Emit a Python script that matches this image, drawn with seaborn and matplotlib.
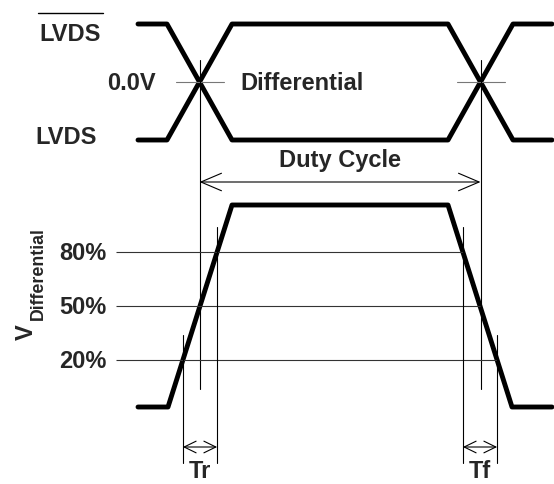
import numpy as np
import pandas as pd
import matplotlib
matplotlib.use("Agg")
import matplotlib.pyplot as plt
import seaborn as sns

# waveform vertices (drawing units = pixels of the sheet, y grows downward)
t_upper = [138, 167, 232, 448, 513, 552]
lvds_bar = [24, 24, 140, 140, 24, 24]
lvds = [140, 140, 24, 24, 140, 140]

t_lower = [138, 168, 232, 448, 512, 552]
v_diff = [407, 407, 205, 205, 407, 407]

level_labels = ["80%", "50%", "20%"]
level_y = [252, 306, 360]

sns.set_theme(style="white")
plt.rcParams["font.family"] = ["Liberation Sans", "DejaVu Sans"]
plt.rcParams["font.weight"] = "bold"

fig = plt.figure(figsize=(5.54, 4.84), dpi=100)
ax = fig.add_axes([0, 0, 1, 1])
ax.set_xlim(0, 554)
ax.set_ylim(484, 0)
ax.axis("off")

wave_lw = 3.5
thin = 0.8
fs = 17

# upper LVDS pair
df_up = pd.DataFrame({"t": t_upper * 2, "v": lvds_bar + lvds,
                      "sig": ["bar"] * 6 + ["lvds"] * 6})
sns.lineplot(data=df_up, x="t", y="v", units="sig", estimator=None, sort=False,
             color="black", lw=wave_lw, ax=ax, legend=False)

# lower differential waveform
df_lo = pd.DataFrame({"t": t_lower, "v": v_diff})
sns.lineplot(data=df_lo, x="t", y="v", estimator=None, sort=False,
             color="black", lw=wave_lw, ax=ax, legend=False)
ax.set_xlim(0, 554)
ax.set_ylim(484, 0)
ax.set_xlabel("")
ax.set_ylabel("")

# crossing points of the LVDS pair
mid_y = (lvds[0] + lvds_bar[0]) / 2
cross_x = [(t_upper[1] + t_upper[2]) / 2, (t_upper[3] + t_upper[4]) / 2]
for cx in cross_x:
    ax.plot([cx - 24, cx + 24], [mid_y, mid_y], color="#777777", lw=thin)
    ax.plot([cx, cx], [mid_y - 22, 389], color="black", lw=thin)

# duty cycle arrow
ax.annotate("", xy=(cross_x[0], 182), xytext=(cross_x[1], 182),
            arrowprops=dict(arrowstyle="<->,head_length=14.8,head_width=6.3",
                            mutation_scale=1, lw=thin, color="black",
                            shrinkA=0, shrinkB=0))

# threshold levels
rise_x = np.interp(level_y, [v_diff[2], v_diff[1]], [t_lower[2], t_lower[1]])
fall_x = np.interp(level_y, [v_diff[3], v_diff[4]], [t_lower[3], t_lower[4]])
ax.hlines(level_y, 116, fall_x, color="#333333", lw=thin)
for lab, y in zip(level_labels, level_y):
    ax.text(106, y + 8, lab, ha="right", va="baseline", fontsize=fs,
            fontweight="bold")

# rise / fall time markers
ext = 25
arrow_y = 447
marks = [(rise_x[2], rise_x[0], "Tr"), (fall_x[0], fall_x[2], "Tf")]
for xa, xb, lab in marks:
    ya = level_y[2] if lab == "Tr" else level_y[0]
    yb = level_y[0] if lab == "Tr" else level_y[2]
    ax.plot([xa, xa], [ya - ext, 463], color="black", lw=thin)
    ax.plot([xb, xb], [yb - ext, 463], color="black", lw=thin)
    ax.annotate("", xy=(xa, arrow_y), xytext=(xb, arrow_y),
                arrowprops=dict(arrowstyle="<->,head_length=8.6,head_width=4.2",
                                mutation_scale=1, lw=thin, color="black",
                                shrinkA=0, shrinkB=0))
    ax.text((xa + xb) / 2, 483, lab, ha="center", va="bottom", fontsize=fs,
            fontweight="bold")

# text labels
ax.text(70, 41, "LVDS", ha="center", va="baseline", fontsize=fs, fontweight="bold")
ax.plot([38, 103], [13, 13], color="black", lw=1.0)
ax.text(66.5, 144, "LVDS", ha="center", va="baseline", fontsize=fs, fontweight="bold")
ax.text(131, 90.5, "0.0V", ha="center", va="baseline", fontsize=fs, fontweight="bold")
ax.text(240, 90.5, "Differential", ha="left", va="baseline", fontsize=fs,
        fontweight="bold")
ax.text(340, 167, "Duty Cycle", ha="center", va="baseline", fontsize=fs,
        fontweight="bold")

ax.text(33, 332.5, "V", rotation=90, rotation_mode="anchor", ha="center",
        va="baseline", fontsize=fs, fontweight="bold")
ax.text(43, 273.5, "Differential", rotation=90, rotation_mode="anchor",
        ha="center", va="baseline", fontsize=12.8, fontweight="bold")

fig.savefig("out.png", dpi=100)
